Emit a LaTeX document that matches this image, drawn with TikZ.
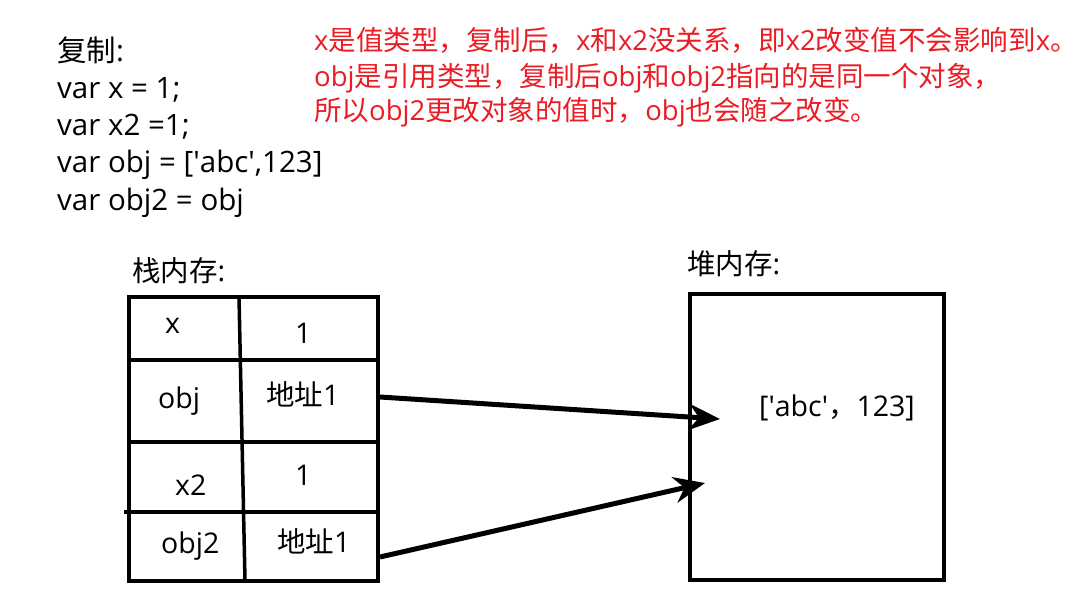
\documentclass[tikz,border=0pt]{standalone}
\usepackage{fontspec}
\setmainfont{Open Sans}
\newfontfamily\cjk{Noto Sans CJK SC}
\newcommand\zh[1]{{\cjk #1}}
\usetikzlibrary{arrows.meta}
\definecolor{notered}{RGB}{235,28,36}

\begin{document}
\begin{tikzpicture}[x=1pt, y=-1pt,
  txt/.style={anchor=base west, inner sep=0pt, font=\fontsize{29.5}{34}\selectfont},
  note/.style={txt, text=notered, font=\fontsize{27.5}{34}\selectfont},
  cell/.style={txt, font=\fontsize{28.5}{32}\selectfont},
  grid/.style={line width=3.5pt, line cap=rect},
  ptr/.style={line width=5pt, -{Stealth[length=31pt, width=26pt, inset=10pt]}}]
\useasboundingbox[fill=white] (0,0) rectangle (1083,596);

% source code being copied
\node[txt] (code0) at (57,62)  {\zh{复制}:};
\node[txt] (code1) at (57,99)  {var x = 1;};
\node[txt] (code2) at (57,136) {var x2 =1;};
\node[txt] (code3) at (57,173) {var obj = [\textquotesingle abc\textquotesingle,123]};
\node[txt] (code4) at (57,210) {var obj2 = obj};

% explanation
\node[note] (note1) at (314,51)  {x\zh{是值类型，复制后，}x\zh{和}x2\zh{没关系，即}x2\zh{改变值不会影响到}x\zh{。}};
\node[note] (note2) at (314,87)  {obj\zh{是引用类型，复制后}obj\zh{和}obj2\zh{指向的是同一个对象，}};
\node[note] (note3) at (314,121) {\zh{所以}obj2\zh{更改对象的值时，}obj\zh{也会随之改变。}};

% stack memory table
\node[cell] (stacklbl) at (132,281) {\zh{栈内存}:};
\draw[grid] (129,297) rectangle (378,581);
\draw[grid] (129,360) -- (378,360);
\draw[grid] (129,442) -- (378,442);
\draw[grid] (126,512) -- (378,512);
\draw[grid] (239,297) -- (245,581);

\node[cell] (nx)    at (165,333) {x};
\node[cell] (vx)    at (295,343) {1};
\node[cell] (nobj)  at (158,408) {obj};
\node[cell] (vobj)  at (266,405) {\zh{地址}1};
\node[cell] (nx2)   at (175,495) {x2};
\node[cell] (vx2)   at (295,485) {1};
\node[cell] (nobj2) at (161,553) {obj2};
\node[cell] (vobj2) at (277,552) {\zh{地址}1};

% heap memory
\node[cell] (heaplbl) at (687,274) {\zh{堆内存}:};
\node[draw, line width=3.5pt, minimum width=254pt, minimum height=286pt,
      anchor=north west, inner sep=0pt] (heap) at (688,292) {};
\node[cell] (arr) at (759,416) {[\textquotesingle abc\textquotesingle\zh{，}123]};

% references from the stack to the shared object
\coordinate (p1) at (380,397);
\coordinate (h1) at (720,419);
\coordinate (p2) at (380,557);
\coordinate (h2) at (705,483);
\draw[ptr] (p1) -- (h1);
\draw[ptr] (p2) -- (h2);
\end{tikzpicture}
\end{document}
